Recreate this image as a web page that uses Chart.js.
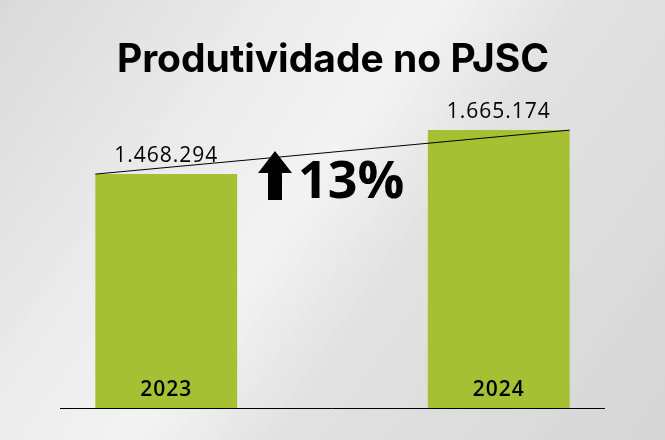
<!DOCTYPE html>
<html><head><meta charset="utf-8">
<script src="https://cdn.jsdelivr.net/npm/chart.js@4"></script>
<style>
body{margin:0;width:665px;height:440px;overflow:hidden;
background:linear-gradient(125deg,#d9d9d9 0%,#ececec 30%,#f3f3f3 45%,#e2e2e2 60%,#d6d6d6 100%);}
#wrap{position:absolute;left:0;top:0;width:665px;height:440px}
</style></head><body>
<div id="wrap"><canvas id="c"></canvas></div>
<script>
var years=['2023','2024']
var values=[1468294,1665174]
var valueLabels=['1.468.294','1.665.174']
var growth='13%'
var barColor='#a6c034'

var extras={
  id:'extras',
  afterDatasetsDraw:function(chart){
    var ctx=chart.ctx
    var bars=chart.getDatasetMeta(0).data
    var yb=chart.scales.y.bottom
    ctx.save()
    ctx.fillStyle='#000'
    ctx.font='bold 39px Inter, "Open Sans", sans-serif'
    ctx.textAlign='center';ctx.textBaseline='middle'
    ctx.fillText('Produtividade no PJSC',333,60)
    ctx.textBaseline='alphabetic'
    bars.forEach(function(b,i){
      ctx.font='500 21px "Open Sans", sans-serif'
      ctx.letterSpacing='1px'
      ctx.fillText(valueLabels[i],b.x,b.y-12)
      ctx.font='600 21px "Open Sans", sans-serif'
      ctx.fillText(years[i],b.x,yb-12)
    })
    ctx.letterSpacing='0px'
    // trend line
    ctx.strokeStyle='#000';ctx.lineWidth=1
    ctx.beginPath()
    ctx.moveTo(bars[0].x-bars[0].width/2,bars[0].y)
    ctx.lineTo(bars[1].x+bars[1].width/2,bars[1].y)
    ctx.stroke()
    // baseline
    ctx.beginPath();ctx.moveTo(60,yb+0.5);ctx.lineTo(605,yb+0.5);ctx.stroke()
    // arrow
    ctx.beginPath()
    ctx.moveTo(275,151);ctx.lineTo(292,173);ctx.lineTo(282,173);ctx.lineTo(282,200)
    ctx.lineTo(268,200);ctx.lineTo(268,173);ctx.lineTo(258,173);ctx.closePath();ctx.fill()
    ctx.font='bold 52px "Open Sans", sans-serif'
    ctx.textAlign='left'
    ctx.fillText(growth,298,198)
    ctx.restore()
  }
}

new Chart(document.getElementById('c'),{
  type:'bar',
  data:{labels:years,datasets:[{data:values,backgroundColor:barColor,barPercentage:0.853,categoryPercentage:0.5}]},
  options:{
    responsive:true,maintainAspectRatio:false,animation:false,
    layout:{padding:{top:100,bottom:32,left:-5,right:-10}},
    plugins:{legend:{display:false},tooltip:{enabled:false}},
    scales:{
      x:{display:false},
      y:{display:false,min:421250,max:1800000}
    }
  },
  plugins:[extras]
})
</script>
</body></html>
